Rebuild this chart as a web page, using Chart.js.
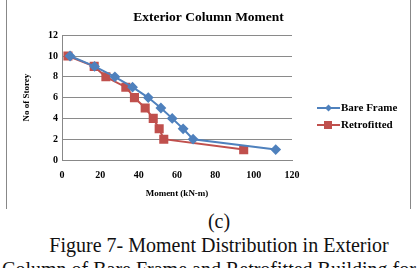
<!DOCTYPE html>
<html>
<head>
<meta charset="utf-8">
<script src="https://cdn.jsdelivr.net/npm/chart.js@4"></script>
<style>
  body { margin: 0; background: #fff; width: 419px; height: 268px; overflow: hidden; position: relative; }
  #frame { position: absolute; left: 6px; top: 0; width: 403px; height: 209px; border-left: 1px solid #888; border-right: 1px solid #888; }
  .cap { position: absolute; left: 0; width: 438px; text-align: center; font-family: "Liberation Serif", serif; font-size: 20px; line-height: 23px; color: #111; white-space: nowrap; }
</style>
</head>
<body>
<div id="frame"><canvas id="momentChart" width="403" height="209"></canvas></div>
<div class="cap" style="top:210px">(c)</div>
<div class="cap" style="top:234px">Figure 7- Moment Distribution in Exterior</div>
<div class="cap" style="top:258px;width:418px">Column of Bare Frame and Retrofitted Building for</div>
<script>
// Chart data
const stories = [1, 2, 3, 4, 5, 6, 7, 8, 9, 10];
const bareFrame = [111.5, 68.4, 63.2, 57.5, 51.6, 45, 36.8, 27.6, 17, 4.2];
const retrofitted = [94.8, 53.1, 50.7, 47.6, 43.4, 37.8, 33.3, 22.9, 16.8, 3.1];
const xTicks = [0, 20, 40, 60, 80, 100, 120];
const yTicks = [0, 2, 4, 6, 8, 10, 12];

const blue = "#4F81BD";
const red = "#C0504D";
const serifBold = { family: "'Liberation Serif', serif", size: 10, weight: "bold" };

// simple Excel-like legend: line with a marker in the middle
const sideLegend = {
  id: "sideLegend",
  afterDraw(chart) {
    const c = chart.ctx;
    const rows = [108, 125];
    chart.data.datasets.forEach((ds, i) => {
      const y = rows[i];
      c.save();
      c.strokeStyle = ds.borderColor;
      c.lineWidth = 2;
      c.beginPath();
      c.moveTo(310, y);
      c.lineTo(333, y);
      c.stroke();
      c.fillStyle = ds.borderColor;
      if (ds.pointStyle === "rect") {
        c.fillRect(317, y - 4, 8, 8);
      } else {
        c.beginPath();
        c.moveTo(321.5, y - 3.5);
        c.lineTo(325, y);
        c.lineTo(321.5, y + 3.5);
        c.lineTo(318, y);
        c.closePath();
        c.fill();
      }
      c.fillStyle = "#000";
      c.font = "bold 11px 'Liberation Serif', serif";
      c.textBaseline = "middle";
      c.fillText(ds.label, 334, y);
      c.restore();
    });
  },
};

const ctx = document.getElementById("momentChart").getContext("2d");
new Chart(ctx, {
  type: "line",
  data: {
    datasets: [
      {
        label: "Bare Frame",
        data: stories.map((s, i) => ({ x: bareFrame[i], y: s })),
        borderColor: blue,
        backgroundColor: blue,
        borderWidth: 2,
        pointStyle: "rectRot",
        pointRadius: 4,
        tension: 0,
      },
      {
        label: "Retrofitted",
        data: stories.map((s, i) => ({ x: retrofitted[i], y: s })),
        borderColor: red,
        backgroundColor: red,
        borderWidth: 2,
        pointStyle: "rect",
        pointRadius: 5,
        tension: 0,
      },
    ],
  },
  options: {
    responsive: false,
    animation: false,
    layout: { padding: 0 },
    plugins: {
      legend: { display: false },
      tooltip: { enabled: false },
      title: {
        display: true,
        text: "Exterior Column Moment",
        color: "#000",
        font: { family: "'Liberation Serif', serif", size: 13.5, weight: "bold" },
        padding: { top: 9, bottom: 10 },
        align: "center",
      },
    },
    scales: {
      x: {
        type: "linear",
        min: 0,
        max: 120,
        afterBuildTicks: (s) => { s.ticks = xTicks.map((v) => ({ value: v })); },
        afterFit: (s) => { s.height = 49; },
        grid: { display: false },
        border: { display: true, color: "#888", width: 1 },
        ticks: { color: "#000", font: serifBold, padding: 1, maxRotation: 0 },
        title: {
          display: true,
          text: "Moment (kN-m)",
          color: "#000",
          font: { family: "'Liberation Serif', serif", size: 9, weight: "bold" },
          padding: { top: 0, bottom: 10 },
        },
      },
      y: {
        type: "linear",
        min: 0,
        max: 12,
        afterBuildTicks: (s) => { s.ticks = yTicks.map((v) => ({ value: v })); },
        afterFit: (s) => { s.width = 55; },
        grid: { color: "#8a8a8a", drawTicks: false, lineWidth: 1 },
        border: { display: true, color: "#888", width: 1 },
        ticks: { color: "#000", font: serifBold, padding: 4 },
        title: {
          display: true,
          text: "No of Storey",
          color: "#000",
          font: { family: "'Liberation Serif', serif", size: 9, weight: "bold" },
          padding: { top: 14, bottom: 0 },
        },
      },
      // empty right-hand axis that only reserves room for the legend
      spacer: {
        type: "linear",
        position: "right",
        display: true,
        min: 0,
        max: 12,
        afterFit: (s) => { s.width = 118; },
        grid: { display: false },
        border: { display: false },
        ticks: { display: false },
      },
    },
  },
  plugins: [sideLegend],
});
</script>
</body>
</html>
